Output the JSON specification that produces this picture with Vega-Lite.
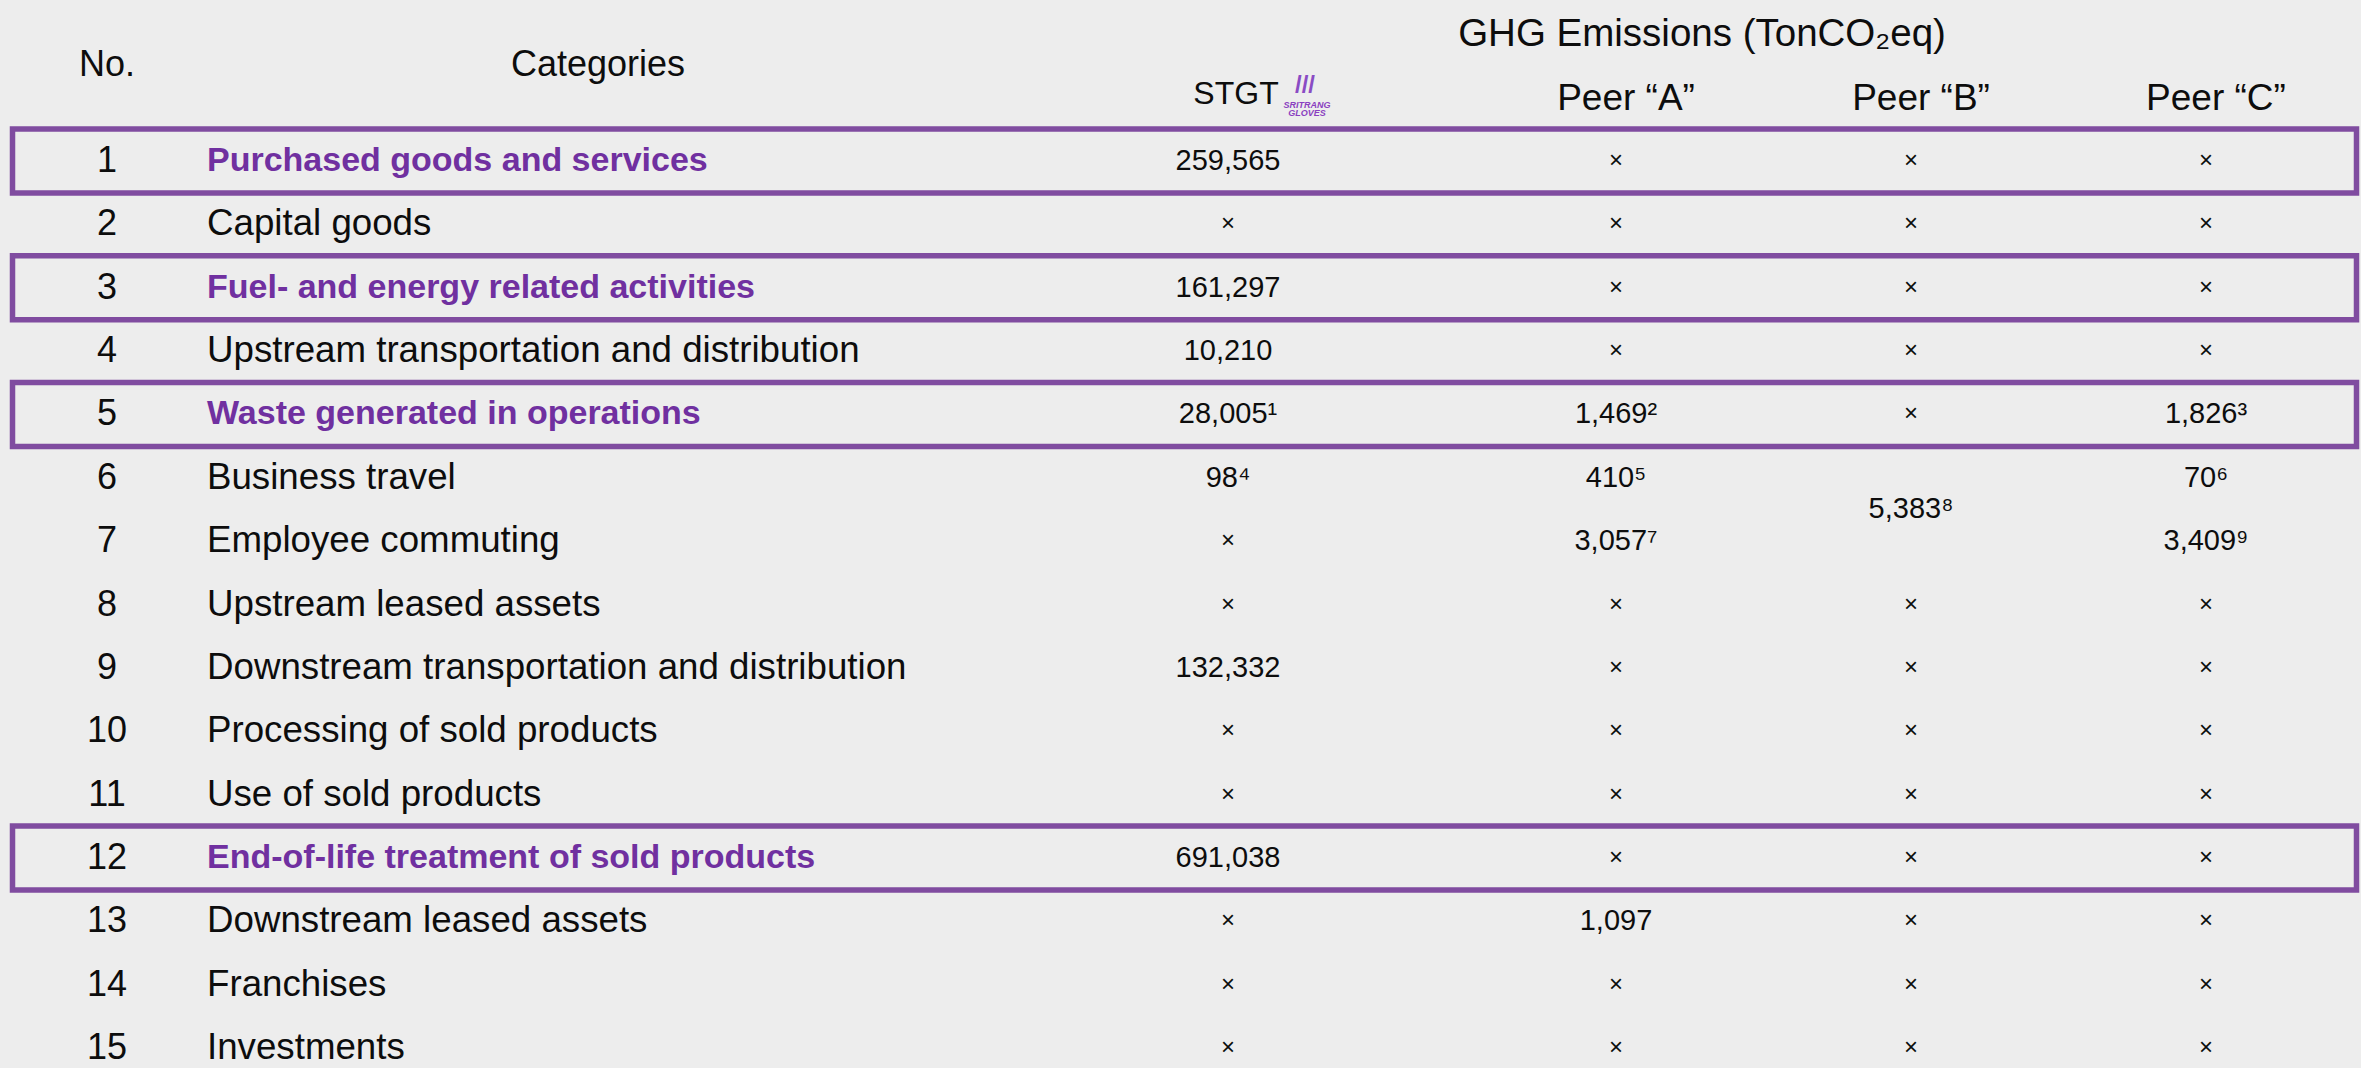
{
  "$schema": "https://vega.github.io/schema/vega-lite/v6.json",
  "width": 2361,
  "height": 1068,
  "autosize": {"type": "none"},
  "padding": 0,
  "background": "#ededed",
  "config": {"view": {"stroke": null}, "font": "Liberation Sans", "text": {"font": "Liberation Sans", "color": "#0d0d0d", "baseline": "middle"}},
  "datasets": {
    "table": [
      {"no": 1, "category": "Purchased goods and services", "focus": true, "STGT": "259,565", "PeerA": "×", "PeerB": "×", "PeerC": "×"},
      {"no": 2, "category": "Capital goods", "focus": false, "STGT": "×", "PeerA": "×", "PeerB": "×", "PeerC": "×"},
      {"no": 3, "category": "Fuel- and energy related activities", "focus": true, "STGT": "161,297", "PeerA": "×", "PeerB": "×", "PeerC": "×"},
      {"no": 4, "category": "Upstream transportation and distribution", "focus": false, "STGT": "10,210", "PeerA": "×", "PeerB": "×", "PeerC": "×"},
      {"no": 5, "category": "Waste generated in operations", "focus": true, "STGT": "28,005¹", "PeerA": "1,469²", "PeerB": "×", "PeerC": "1,826³"},
      {"no": 6, "category": "Business travel", "focus": false, "STGT": "98⁴", "PeerA": "410⁵", "PeerB": null, "PeerC": "70⁶"},
      {"no": 7, "category": "Employee commuting", "focus": false, "STGT": "×", "PeerA": "3,057⁷", "PeerB": null, "PeerC": "3,409⁹"},
      {"no": 8, "category": "Upstream leased assets", "focus": false, "STGT": "×", "PeerA": "×", "PeerB": "×", "PeerC": "×"},
      {"no": 9, "category": "Downstream transportation and distribution", "focus": false, "STGT": "132,332", "PeerA": "×", "PeerB": "×", "PeerC": "×"},
      {"no": 10, "category": "Processing of sold products", "focus": false, "STGT": "×", "PeerA": "×", "PeerB": "×", "PeerC": "×"},
      {"no": 11, "category": "Use of sold products", "focus": false, "STGT": "×", "PeerA": "×", "PeerB": "×", "PeerC": "×"},
      {"no": 12, "category": "End-of-life treatment of sold products", "focus": true, "STGT": "691,038", "PeerA": "×", "PeerB": "×", "PeerC": "×"},
      {"no": 13, "category": "Downstream leased assets", "focus": false, "STGT": "×", "PeerA": "1,097", "PeerB": "×", "PeerC": "×"},
      {"no": 14, "category": "Franchises", "focus": false, "STGT": "×", "PeerA": "×", "PeerB": "×", "PeerC": "×"},
      {"no": 15, "category": "Investments", "focus": false, "STGT": "×", "PeerA": "×", "PeerB": "×", "PeerC": "×"}
    ],
    "merged": [{"company": "Peer “B”", "rows": "6–7", "label": "5,383⁸"}]
  },
  "layer": [
    {
      "data": {"name": "table"},
      "transform": [{"filter": "datum.focus"}],
      "mark": {"type": "bar", "orient": "horizontal", "height": 64, "fill": null, "fillOpacity": 0, "stroke": "#804ca0", "strokeWidth": 5.5},
      "encoding": {
        "x": {"datum": 0, "type": "quantitative", "axis": null, "scale": {"domain": [0, 1, 2, 3, 4, 5, 6, 7], "range": [12.5, 107, 207, 1228, 1616, 1911, 2206, 2356.5], "nice": false, "zero": false}},
        "x2": {"datum": 7},
        "y": {"field": "no", "type": "quantitative", "axis": null, "scale": {"domain": [1, 15], "range": [156, 1053], "nice": false, "zero": false}}
      }
    },
    {
      "data": {"name": "table"},
      "mark": {"type": "text", "fontSize": 36, "align": "center"},
      "encoding": {
        "x": {"datum": 1, "type": "quantitative"},
        "y": {"field": "no", "type": "quantitative"},
        "text": {"field": "no", "type": "nominal"}
      }
    },
    {
      "data": {"name": "table"},
      "transform": [{"filter": "!datum.focus"}],
      "mark": {"type": "text", "fontSize": 36.7, "align": "left"},
      "encoding": {
        "x": {"datum": 2, "type": "quantitative"},
        "y": {"field": "no", "type": "quantitative"},
        "text": {"field": "category", "type": "nominal"}
      }
    },
    {
      "data": {"name": "table"},
      "transform": [{"filter": "datum.focus"}],
      "mark": {"type": "text", "fontSize": 34, "fontWeight": "bold", "align": "left", "color": "#7030a0"},
      "encoding": {
        "x": {"datum": 2, "type": "quantitative"},
        "y": {"field": "no", "type": "quantitative"},
        "text": {"field": "category", "type": "nominal"}
      }
    },
    {
      "data": {"name": "table"},
      "mark": {"type": "text", "align": "center"},
      "encoding": {
        "x": {"datum": 3, "type": "quantitative"},
        "y": {"field": "no", "type": "quantitative"},
        "text": {"field": "STGT", "type": "nominal"},
        "size": {"condition": {"test": "datum.STGT === '×'", "value": 24}, "value": 29}
      }
    },
    {
      "data": {"name": "table"},
      "mark": {"type": "text", "align": "center"},
      "encoding": {
        "x": {"datum": 4, "type": "quantitative"},
        "y": {"field": "no", "type": "quantitative"},
        "text": {"field": "PeerA", "type": "nominal"},
        "size": {"condition": {"test": "datum.PeerA === '×'", "value": 24}, "value": 29}
      }
    },
    {
      "data": {"name": "table"},
      "transform": [{"filter": "datum.PeerB != null"}],
      "mark": {"type": "text", "align": "center"},
      "encoding": {
        "x": {"datum": 5, "type": "quantitative"},
        "y": {"field": "no", "type": "quantitative"},
        "text": {"field": "PeerB", "type": "nominal"},
        "size": {"condition": {"test": "datum.PeerB === '×'", "value": 24}, "value": 29}
      }
    },
    {
      "data": {"name": "table"},
      "mark": {"type": "text", "align": "center"},
      "encoding": {
        "x": {"datum": 6, "type": "quantitative"},
        "y": {"field": "no", "type": "quantitative"},
        "text": {"field": "PeerC", "type": "nominal"},
        "size": {"condition": {"test": "datum.PeerC === '×'", "value": 24}, "value": 29}
      }
    },
    {
      "data": {"name": "merged"},
      "mark": {"type": "text", "align": "center", "fontSize": 29},
      "encoding": {
        "x": {"datum": 5, "type": "quantitative"},
        "y": {"datum": 6.5, "type": "quantitative"},
        "text": {"field": "label", "type": "nominal"}
      }
    },
    {
      "data": {"values": [{"label": "No."}]},
      "mark": {"type": "text", "align": "center", "fontSize": 36},
      "encoding": {
        "x": {"datum": 1, "type": "quantitative"},
        "y": {"datum": -0.52, "type": "quantitative"},
        "text": {"field": "label", "type": "nominal"}
      }
    },
    {
      "data": {"values": [{"label": "Categories"}]},
      "mark": {"type": "text", "align": "center", "fontSize": 36, "dx": 391},
      "encoding": {
        "x": {"datum": 2, "type": "quantitative"},
        "y": {"datum": -0.52, "type": "quantitative"},
        "text": {"field": "label", "type": "nominal"}
      }
    },
    {
      "data": {"values": [{"label": "GHG Emissions (TonCO₂eq)"}]},
      "mark": {"type": "text", "align": "center", "fontSize": 38.5, "dx": 86},
      "encoding": {
        "x": {"datum": 4, "type": "quantitative"},
        "y": {"datum": -1.0, "type": "quantitative"},
        "text": {"field": "label", "type": "nominal"}
      }
    },
    {
      "data": {"values": [{"label": "STGT"}]},
      "mark": {"type": "text", "align": "center", "fontSize": 32, "dx": 8},
      "encoding": {
        "x": {"datum": 3, "type": "quantitative"},
        "y": {"datum": -0.05, "type": "quantitative"},
        "text": {"field": "label", "type": "nominal"}
      }
    },
    {
      "data": {"values": [{"label": "///"}]},
      "mark": {"type": "text", "align": "center", "fontSize": 24, "fontWeight": "bold", "color": "#8a4cc4", "dx": 77},
      "encoding": {
        "x": {"datum": 3, "type": "quantitative"},
        "y": {"datum": -0.19, "type": "quantitative"},
        "text": {"field": "label", "type": "nominal"}
      }
    },
    {
      "data": {"values": [{"label": "SRITRANG", "lvl": 0.11}, {"label": "GLOVES", "lvl": 0.235}]},
      "mark": {"type": "text", "align": "center", "fontSize": 9, "fontWeight": "bold", "fontStyle": "italic", "color": "#8a3fc0", "dx": 79},
      "encoding": {
        "x": {"datum": 3, "type": "quantitative"},
        "y": {"field": "lvl", "type": "quantitative"},
        "text": {"field": "label", "type": "nominal"}
      }
    },
    {
      "data": {"values": [{"label": "Peer “A”", "col": 4}, {"label": "Peer “B”", "col": 5}, {"label": "Peer “C”", "col": 6}]},
      "mark": {"type": "text", "align": "center", "fontSize": 37, "dx": 10},
      "encoding": {
        "x": {"field": "col", "type": "quantitative"},
        "y": {"datum": 0.02, "type": "quantitative"},
        "text": {"field": "label", "type": "nominal"}
      }
    }
  ]
}
